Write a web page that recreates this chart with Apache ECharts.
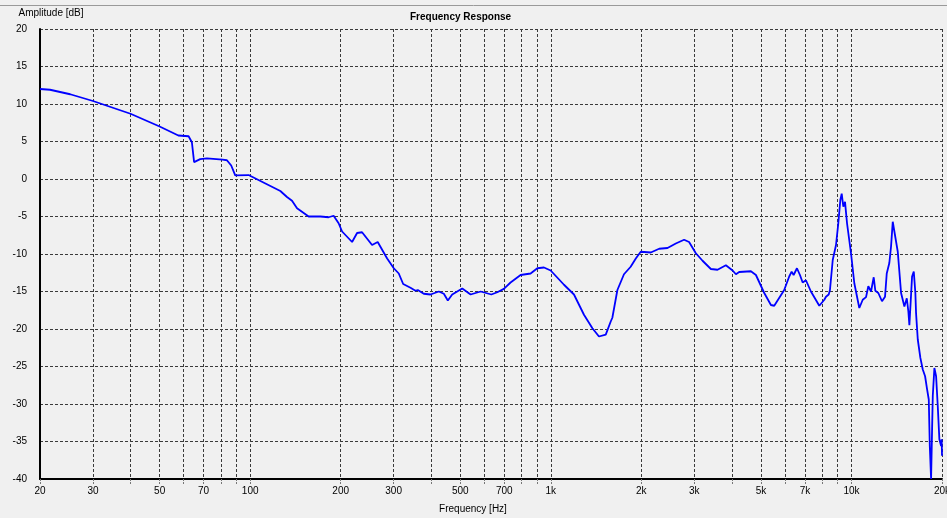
<!DOCTYPE html>
<html><head><meta charset="utf-8">
<script src="https://cdn.jsdelivr.net/npm/echarts@6/dist/echarts.min.js"></script>
<style>html,body{margin:0;padding:0;background:#f0f0f0}#c{width:947px;height:518px}</style>
</head><body><div id="c"></div>
<script>
const freqHz = [20,21.6,25.2,30,40,50,57.7,62.4,64,65.1,68.2,71.8,81,83.7,86.5,89.2,98.8,
  113.7,126,132.6,137.8,143.2,156.5,171.2,182.4,189.5,196.9,202.2,218.3,226.8,235.6,254.4,265.6,285.5,300.4,312.1,322.8,
  341.4,354.7,361,378,397.9,424.1,440.7,454.4,469.9,507.5,540.9,584.1,634,663.7,697.9,734.7,793.3,856.5,902,948.9,998.8,
  1106,1194,1289,1375,1446,1523,1582,1602,1665,1751,1843,1917,1991,2150,2292,2444,2604,2775,2883,3036,3196,3407,3585,3821,
  4024,4127,4232,4628,4810,5127,5396,5534,5973,6207,6323,6420,6586,6739,6880,7055,7330,7815,8121,8225,8399,8480,8662,8882,
  9040,9181,9278,9394,9516,9664,9963,10219,10617,10899,11178,11376,11613,11856,12002,12281,12634,12928,13099,13361,13538,
  13716,13884,14254,14620,14995,15273,15461,15579,15903,16112,16310,16397,16614,16947,17262,17571,17843,18074,18216,18397,
  18537,18638,18868,19116,19362,19600,19862,19950,20000];
const amplitudeDb = [12.0,11.9,11.3,10.4,8.7,7.0,5.8,5.7,4.9,2.25,2.65,2.74,2.57,2.5,1.8,0.49,0.53,
  -0.7,-1.6,-2.4,-2.9,-3.9,-5.0,-5.0,-5.1,-4.9,-5.9,-7.0,-8.4,-7.2,-7.1,-8.8,-8.4,-10.6,-11.9,-12.6,-14.0,
  -14.5,-14.9,-14.8,-15.3,-15.4,-15.0,-15.3,-16.2,-15.4,-14.6,-15.4,-15.0,-15.4,-15.1,-14.65,-13.8,-12.8,-12.6,-11.9,-11.8,-12.2,
  -14.1,-15.4,-18.1,-19.9,-21.0,-20.75,-19.0,-18.5,-14.8,-12.7,-11.7,-10.6,-9.7,-9.8,-9.3,-9.2,-8.6,-8.1,-8.4,-9.9,-10.9,-12.0,-12.1,-11.5,
  -12.2,-12.7,-12.4,-12.3,-12.8,-15.2,-16.8,-16.9,-14.8,-13.0,-12.35,-12.8,-11.9,-12.8,-13.8,-13.5,-15.0,-16.9,-16.1,-15.7,-15.4,-14.8,-10.8,-8.8,
  -5.9,-2.8,-1.95,-3.7,-3.05,-5.9,-9.9,-13.9,-17.2,-16.1,-15.75,-14.3,-15.0,-13.1,-14.9,-15.2,-16.3,-15.7,-12.6,-11.2,-9.0,
  -5.7,-5.9,-9.7,-15.2,-17.0,-15.9,-17.7,-19.5,-13.0,-12.35,-15.2,-17.9,-21.4,-23.85,-25.4,-26.3,-28.05,-29.4,-35.6,-40,
  -33.4,-28.9,-25.2,-26.3,-30.3,-34.7,-35.6,-34.7,-36.9];
const gridFreqs = [20,30,40,50,60,70,80,90,100,200,300,400,500,600,700,800,900,
  1000,2000,3000,4000,5000,6000,7000,8000,9000,10000,20000];
const labelFreqs = [20,30,50,70,100,200,300,500,700,1000,2000,3000,5000,7000,10000,20000];
const yMin = -40, yMax = 20, yStep = 5;

const lg = Math.log10;
function fmtHz(v){ const f = Math.round(Math.pow(10, v)); return f >= 1000 ? (f/1000) + 'k' : String(f); }
const FONT = 'Liberation Sans';
const chart = echarts.init(document.getElementById('c'), null, {renderer:'canvas'});
chart.setOption({
  backgroundColor:'#f0f0f0',
  animation:false,
  title:{text:'Frequency Response', left:405, top:7,
    textStyle:{fontFamily:FONT, fontSize:10, fontWeight:'bold', color:'#000'}},
  graphic:[{type:'line', shape:{x1:0,y1:5.5,x2:947,y2:5.5}, style:{stroke:'#9a9a9a', lineWidth:1}, silent:true}],
  grid:{left:40, right:5, top:29, bottom:39, containLabel:false, outerBoundsMode:'none'},
  xAxis:{type:'value', min:lg(20), max:lg(20000),
    name:'Frequency [Hz]', nameLocation:'middle', nameGap:25,
    nameTextStyle:{fontFamily:FONT, fontSize:10, color:'#000', padding:[0,36,0,0]},
    axisLine:{show:true, onZero:false, lineStyle:{color:'#000', width:2}},
    axisTick:{show:true, customValues:gridFreqs.map(lg), length:6, lineStyle:{color:'#777', type:[2,1]}},
    axisLabel:{customValues:labelFreqs.map(lg), formatter:fmtHz, margin:7, hideOverlap:false,
      fontFamily:FONT, fontSize:10, color:'#000'},
    splitLine:{show:true, lineStyle:{color:'#3a3a3a', width:1, type:[3,2]}}},
  yAxis:{type:'value', min:yMin, max:yMax, interval:yStep,
    name:'Amplitude [dB]', nameLocation:'end', nameGap:11,
    nameTextStyle:{fontFamily:FONT, fontSize:10, color:'#000', align:'center', padding:[0,0,0,22]},
    axisLine:{show:true, onZero:false, lineStyle:{color:'#000', width:2}},
    axisTick:{show:false},
    axisLabel:{margin:13, fontFamily:FONT, fontSize:10, color:'#000'},
    splitLine:{show:true, lineStyle:{color:'#3a3a3a', width:1, type:[3,2]}}},
  series:[{type:'line', data:freqHz.map((f,i)=>[lg(f), amplitudeDb[i]]),
    showSymbol:false, symbol:'none', clip:true,
    lineStyle:{color:'#0000ff', width:1.8}}]
});
</script></body></html>
